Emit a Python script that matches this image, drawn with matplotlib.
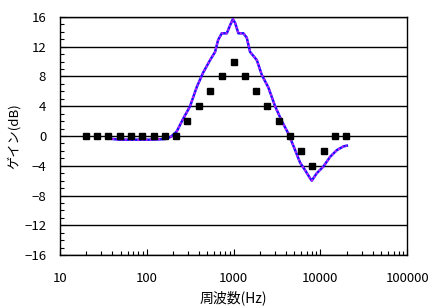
import matplotlib
matplotlib.use("Agg")
import matplotlib.pyplot as plt
from matplotlib.ticker import LogLocator, MultipleLocator, NullFormatter, FixedLocator

plt.rcParams['font.family'] = ['Noto Sans CJK JP', 'DejaVu Sans']

# === Données ===
# points de consigne (carrés noirs)
freq_cible = [20, 27, 36, 49, 66, 89, 120, 162, 218, 294, 397, 535, 730, 1000,
              1350, 1820, 2450, 3300, 4450, 6000, 8100, 10900, 14700, 19800]
gain_cible = [0, 0, 0, 0, 0, 0, 0, 0, 0, 2, 4, 6, 8, 10,
              8, 6, 4, 2, 0, -2, -4, -2, 0, 0]

# courbe mesurée
freq_mesure = [40, 49, 64, 84, 109, 142, 165, 190, 221, 262, 315, 377, 445, 536,
               612, 663, 731, 835, 912, 980, 1041, 1136, 1297, 1419, 1549, 1852,
               2115, 2519, 3008, 3594, 4285, 5117, 5845, 6675, 7622, 7960, 9095,
               10840, 12945, 15480, 18450, 20180]
gain_mesure = [-0.4, -0.5, -0.5, -0.5, -0.5, -0.45, -0.4, -0.1, 0.6, 2.3, 4.0,
               6.6, 8.5, 10.2, 11.3, 12.9, 13.8, 13.8, 14.9, 15.7, 15.2, 13.8,
               13.8, 13.2, 11.3, 10.2, 8.2, 6.5, 4.0, 2.0, 0.3, -1.9, -3.6, -4.6,
               -5.7, -6.0, -5.0, -4.1, -2.8, -1.9, -1.4, -1.3]

yticks = [-16, -12, -8, -4, 0, 4, 8, 12, 16]
xticks = [10, 100, 1000, 10000, 100000]
xlabels = ['10', '100', '1000', '10000', '100000']

fig = plt.figure(figsize=(4.35, 3.08), dpi=100)
ax = fig.add_axes([0.138, 0.172, 0.798, 0.773])

for yv in yticks:
    ax.axhline(yv, color='black', linewidth=1, zorder=1)

ax.plot(freq_mesure, gain_mesure, color='#1010ff', linewidth=1.8, zorder=3)
ax.plot(freq_mesure, gain_mesure, color='#c020ff', linewidth=1.5,
        linestyle=(0, (1, 1)), zorder=4)
ax.plot(freq_cible, gain_cible, linestyle='none', marker='s', markersize=5,
        color='black', zorder=5)

ax.set_xscale('log')
ax.set_xlim(10, 100000)
ax.set_ylim(-16, 16)
ax.xaxis.set_major_locator(FixedLocator(xticks))
ax.set_xticklabels(xlabels)
ax.xaxis.set_minor_locator(LogLocator(base=10, subs=range(2, 10)))
ax.xaxis.set_minor_formatter(NullFormatter())
ax.set_yticks(yticks)
ax.yaxis.set_minor_locator(MultipleLocator(1))

ax.tick_params(axis='both', which='major', labelsize=9.5, direction='in', length=4, width=0.8)
ax.tick_params(axis='both', which='minor', direction='in', length=3, width=0.8)
ax.tick_params(axis='x', pad=12)
ax.tick_params(axis='y', pad=10)

for s in ax.spines.values():
    s.set_linewidth(1)
    s.set_color('black')

ax.set_ylabel("ゲイン(dB)", fontsize=9.5, labelpad=2)
ax.set_xlabel("周波数(Hz)", fontsize=10, labelpad=4)

plt.savefig("out.png", dpi=100)
